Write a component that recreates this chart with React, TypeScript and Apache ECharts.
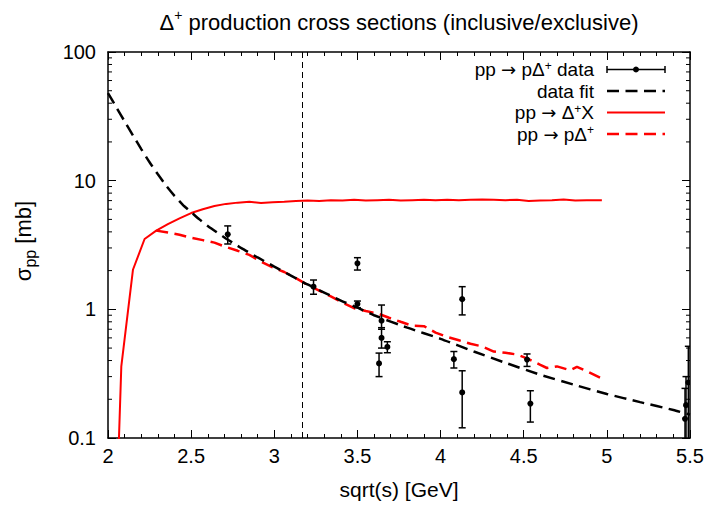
import React, { useEffect, useRef } from 'react';
import * as echarts from 'echarts';

const FONT = '"Liberation Sans", Arial, Helvetica, sans-serif';
const ARROW_FONT = '"DejaVu Sans", sans-serif';

// measured data points: sqrt(s), sigma, lower error end, upper error end
const dataX = [2.72, 3.236, 3.5, 3.5, 3.645, 3.645, 3.63, 3.68, 4.08, 4.13, 4.13, 4.52, 4.54, 5.49, 5.476, 5.47];
const dataY = [3.83, 1.5, 2.28, 1.1, 0.815, 0.6, 0.38, 0.51, 0.41, 1.2, 0.226, 0.407, 0.185, 0.27, 0.18, 0.141];
const dataLo = [3.22, 1.31, 2.02, 1.03, 0.7, 0.5, 0.3, 0.46, 0.35, 0.905, 0.12, 0.36, 0.133, 0.05, 0.05, 0.05];
const dataHi = [4.45, 1.69, 2.52, 1.16, 1.08, 0.72, 0.457, 0.56, 0.47, 1.5, 0.333, 0.45, 0.233, 0.516, 0.3, 0.243];

// data fit (black dashed)
const fitX = [2.0, 2.05, 2.1, 2.15, 2.2, 2.25, 2.3, 2.35, 2.4, 2.45, 2.5, 2.55, 2.6, 2.7, 2.8, 2.9, 3.0, 3.1, 3.2, 3.3, 3.4, 3.5, 3.6, 3.8, 4.0, 4.2, 4.4, 4.6, 4.8, 5.0, 5.2, 5.4, 5.5];
const fitY = [48, 37.2, 28.9, 22.5, 17.6, 13.9, 11.2, 9.14, 7.62, 6.49, 5.7, 5.0, 4.45, 3.62, 3.0, 2.53, 2.15, 1.83, 1.56, 1.35, 1.17, 1.03, 0.9, 0.72, 0.59, 0.47, 0.38, 0.31, 0.26, 0.22, 0.19, 0.165, 0.152];

// pp -> Delta+ X (red solid)
const inclX = [2.01, 2.08, 2.15, 2.22, 2.29, 2.36, 2.43, 2.5, 2.57, 2.64, 2.71, 2.78, 2.85, 2.92, 2.99, 3.06, 3.13, 3.2, 3.27, 3.34, 3.41, 3.48, 3.55, 3.62, 3.69, 3.76, 3.83, 3.9, 3.97, 4.04, 4.11, 4.18, 4.25, 4.32, 4.39, 4.46, 4.53, 4.6, 4.67, 4.74, 4.81, 4.88, 4.97];
const inclY = [0.0006, 0.36, 2.03, 3.52, 4.09, 4.6, 5.1, 5.6, 6.0, 6.35, 6.6, 6.75, 6.85, 6.7, 6.8, 6.85, 6.95, 7.0, 6.95, 7.05, 7.0, 7.1, 7.0, 7.05, 7.1, 7.0, 7.05, 7.1, 7.05, 7.1, 7.05, 7.1, 7.15, 7.1, 7.05, 7.1, 6.95, 7.0, 7.05, 7.15, 7.0, 7.05, 7.05];

// pp -> p Delta+ (red dashed)
const exclX = [2.29, 2.36, 2.43, 2.5, 2.57, 2.64, 2.71, 2.78, 2.85, 2.92, 2.99, 3.06, 3.13, 3.2, 3.27, 3.34, 3.41, 3.48, 3.55, 3.62, 3.69, 3.76, 3.83, 3.9, 3.97, 4.04, 4.11, 4.18, 4.25, 4.32, 4.39, 4.46, 4.53, 4.6, 4.64, 4.7, 4.78, 4.82, 4.88, 4.96];
const exclY = [4.09, 3.95, 3.8, 3.6, 3.45, 3.3, 3.05, 2.85, 2.65, 2.35, 2.12, 1.95, 1.75, 1.55, 1.4, 1.26, 1.13, 1.02, 0.97, 0.93, 0.86, 0.8, 0.745, 0.74, 0.66, 0.61, 0.575, 0.54, 0.515, 0.47, 0.46, 0.445, 0.41, 0.37, 0.35, 0.36, 0.336, 0.357, 0.33, 0.294];

const thresholdX = 3.17;
const xMin = 2, xMax = 5.5, xInterval = 0.5;
const yMin = 0.1, yMax = 100;
const yMinorTicks = [0.2, 0.3, 0.4, 0.5, 0.6, 0.7, 0.8, 0.9, 2, 3, 4, 5, 6, 7, 8, 9, 20, 30, 40, 50, 60, 70, 80, 90];

const titleText = '{a|Δ}{s|+}{a| production cross sections (inclusive/exclusive)}';
const xName = 'sqrt(s) [GeV]';
const yName = '{a|σ}{b|pp}{a| [mb]}';
const legendTexts = [
  '{a|pp }{r|→}{a| pΔ}{s|+}{a| data}',
  '{a|data fit}',
  '{a|pp }{r|→}{a| Δ}{s|+}{a|X}',
  '{a|pp }{r|→}{a| pΔ}{s|+}',
];

const titleRich = {
  a: { fontSize: 22, fontFamily: FONT, fill: '#000', lineHeight: 28 },
  s: { fontSize: 14, fontFamily: FONT, fill: '#000', lineHeight: 14, verticalAlign: 'top' },
};
const legendRich = {
  a: { fontSize: 19, fontFamily: FONT, fill: '#000', lineHeight: 20 },
  r: { fontSize: 18, fontFamily: ARROW_FONT, fill: '#000', lineHeight: 20 },
  s: { fontSize: 12, fontFamily: FONT, fill: '#000', lineHeight: 12, verticalAlign: 'top' },
};

export default function App() {
  const ref = useRef<HTMLDivElement>(null);
  useEffect(() => {
    if (!ref.current) return;
    const chart = echarts.init(ref.current, undefined, { renderer: 'svg' });

    const axisCommon = {
      axisLine: { show: true, onZero: false, lineStyle: { color: '#000', width: 1.5 } },
      splitLine: { show: false },
    };

    const legY = [69.5, 91, 112.5, 134];
    const lx1 = 607, lx2 = 665, ltx = 594;
    const legendGraphics: any[] = [];
    legendTexts.forEach((t, i) => {
      legendGraphics.push({
        type: 'text', x: ltx, y: legY[i],
        style: { text: t, rich: legendRich, align: 'right', verticalAlign: 'middle', fontSize: 19, fontFamily: FONT, fill: '#000' },
      });
    });
    legendGraphics.push(
      { type: 'line', shape: { x1: lx1, y1: legY[0], x2: lx2, y2: legY[0] }, style: { stroke: '#000', lineWidth: 1.5 } },
      { type: 'line', shape: { x1: lx1, y1: legY[0] - 3.5, x2: lx1, y2: legY[0] + 3.5 }, style: { stroke: '#000', lineWidth: 1.5 } },
      { type: 'line', shape: { x1: lx2, y1: legY[0] - 3.5, x2: lx2, y2: legY[0] + 3.5 }, style: { stroke: '#000', lineWidth: 1.5 } },
      { type: 'circle', shape: { cx: (lx1 + lx2) / 2, cy: legY[0], r: 3 }, style: { fill: '#000' } },
      { type: 'line', shape: { x1: lx1, y1: legY[1], x2: lx2, y2: legY[1] }, style: { stroke: '#000', lineWidth: 2.5, lineDash: [12, 6.5] } },
      { type: 'line', shape: { x1: lx1, y1: legY[2], x2: lx2, y2: legY[2] }, style: { stroke: '#ff0000', lineWidth: 2 } },
      { type: 'line', shape: { x1: lx1, y1: legY[3], x2: lx2, y2: legY[3] }, style: { stroke: '#ff0000', lineWidth: 2.5, lineDash: [12, 6.5] } },
    );

    const option: any = {
      animation: false,
      backgroundColor: '#fff',
      textStyle: { fontFamily: FONT },
      grid: { left: 108, right: 20, top: 52, bottom: 66, containLabel: false },
      xAxis: [
        {
          type: 'value', min: xMin, max: xMax, interval: xInterval, position: 'bottom',
          ...axisCommon,
          axisTick: { show: true, inside: true, length: 8, lineStyle: { color: '#000', width: 1 } },
          minorTick: { show: true, splitNumber: 5, length: 4, lineStyle: { color: '#000', width: 1 } },
          axisLabel: { fontSize: 20, color: '#000', fontFamily: FONT, margin: 8, showMinLabel: true, showMaxLabel: true, formatter: (v: number) => String(Number(v.toFixed(2))) },
          name: xName, nameLocation: 'middle', nameGap: 41,
          nameTextStyle: { fontSize: 21, color: '#000', fontFamily: FONT },
        },
        {
          type: 'value', min: xMin, max: xMax, interval: xInterval, position: 'top',
          ...axisCommon,
          axisTick: { show: true, inside: true, length: 8, lineStyle: { color: '#000', width: 1 } },
          minorTick: { show: true, splitNumber: 5, length: 4, lineStyle: { color: '#000', width: 1 } },
          axisLabel: { show: false },
        },
      ],
      yAxis: [
        {
          type: 'log', logBase: 10, min: yMin, max: yMax, position: 'left',
          ...axisCommon,
          axisTick: { show: true, inside: true, length: 8, lineStyle: { color: '#000', width: 1 } },
          minorTick: { show: false },
          axisLabel: { fontSize: 20, color: '#000', fontFamily: FONT, margin: 12, formatter: (v: number) => String(Number(v.toPrecision(3))) },
        },
        {
          type: 'log', logBase: 10, min: yMin, max: yMax, position: 'right',
          ...axisCommon,
          axisTick: { show: true, inside: true, length: 8, lineStyle: { color: '#000', width: 1 } },
          minorTick: { show: false },
          axisLabel: { show: false },
        },
      ],
      graphic: [
        {
          type: 'text', x: 399, y: 22,
          style: { text: titleText, rich: titleRich, align: 'center', verticalAlign: 'middle', fontSize: 22, fontFamily: FONT, fill: '#000' },
        },
        {
          type: 'text', x: 23, y: 241, rotation: Math.PI / 2,
          style: {
            text: yName,
            rich: {
              a: { fontSize: 22, fontFamily: FONT, fill: '#000', lineHeight: 30 },
              b: { fontSize: 16, fontFamily: FONT, fill: '#000', lineHeight: 16, verticalAlign: 'bottom' },
            },
            align: 'center', verticalAlign: 'middle', fontSize: 22, fontFamily: FONT, fill: '#000',
          },
        },
        ...legendGraphics,
      ],
      series: [
        {
          type: 'custom', name: 'minor ticks', silent: true, clip: false,
          xAxisIndex: 0, yAxisIndex: 0,
          data: yMinorTicks.map((v) => [xMin, v]),
          encode: { x: 0, y: 1 },
          renderItem: (_p: any, api: any) => {
            const v = api.value(1);
            const l = api.coord([xMin, v]);
            const r = api.coord([xMax, v]);
            const st = { stroke: '#000', lineWidth: 1 };
            return {
              type: 'group',
              children: [
                { type: 'line', shape: { x1: l[0], y1: l[1], x2: l[0] + 4, y2: l[1] }, style: st },
                { type: 'line', shape: { x1: r[0] - 4, y1: r[1], x2: r[0], y2: r[1] }, style: st },
              ],
            };
          },
          z: 1,
        },
        {
          type: 'line', name: 'data fit', xAxisIndex: 0, yAxisIndex: 0,
          data: fitX.map((x, i) => [x, fitY[i]]),
          showSymbol: false, symbol: 'none', clip: true, smooth: 0.2,
          lineStyle: { color: '#000', width: 2.5, type: [12, 6.5] },
          markLine: {
            silent: true, symbol: ['none', 'none'], label: { show: false },
            lineStyle: { color: '#000', width: 1, type: [6, 4] },
            data: [{ xAxis: thresholdX }],
          },
          z: 3,
        },
        {
          type: 'line', name: 'pp → Δ+X', xAxisIndex: 0, yAxisIndex: 0,
          data: inclX.map((x, i) => [x, inclY[i]]),
          showSymbol: false, symbol: 'none', clip: true,
          lineStyle: { color: '#ff0000', width: 2 },
          z: 2,
        },
        {
          type: 'line', name: 'pp → pΔ+', xAxisIndex: 0, yAxisIndex: 0,
          data: exclX.map((x, i) => [x, exclY[i]]),
          showSymbol: false, symbol: 'none', clip: true,
          lineStyle: { color: '#ff0000', width: 2.5, type: [12, 6.5] },
          z: 2,
        },
        {
          type: 'custom', name: 'pp → pΔ+ data', clip: true,
          xAxisIndex: 0, yAxisIndex: 0,
          data: dataX.map((x, i) => [x, dataY[i], dataLo[i], dataHi[i]]),
          encode: { x: 0, y: 1 },
          renderItem: (_p: any, api: any) => {
            const x = api.value(0);
            const c = api.coord([x, api.value(1)]);
            const a = api.coord([x, api.value(2)]);
            const b = api.coord([x, api.value(3)]);
            const st = { stroke: '#000', lineWidth: 1.5 };
            return {
              type: 'group',
              children: [
                { type: 'line', shape: { x1: c[0], y1: a[1], x2: c[0], y2: b[1] }, style: st },
                { type: 'line', shape: { x1: c[0] - 3.5, y1: a[1], x2: c[0] + 3.5, y2: a[1] }, style: st },
                { type: 'line', shape: { x1: c[0] - 3.5, y1: b[1], x2: c[0] + 3.5, y2: b[1] }, style: st },
                { type: 'circle', shape: { cx: c[0], cy: c[1], r: 3 }, style: { fill: '#000' } },
              ],
            };
          },
          z: 4,
        },
      ],
    };
    chart.setOption(option);
    return () => chart.dispose();
  }, []);
  return <div ref={ref} style={{ width: 710, height: 505, position: 'absolute', left: 0, top: 0 }} />;
}
